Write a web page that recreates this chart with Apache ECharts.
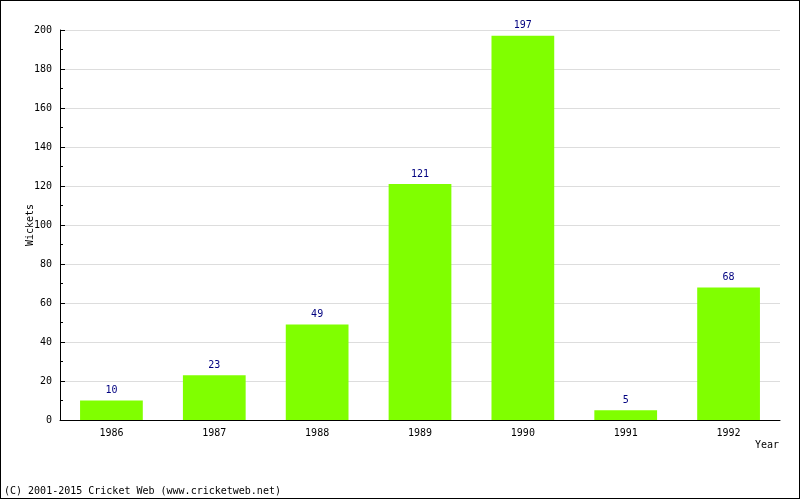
<!DOCTYPE html>
<html>
<head>
<meta charset="utf-8">
<script src="https://cdn.jsdelivr.net/npm/echarts@6/dist/echarts.min.js"></script>
<style>
  html, body { margin: 0; padding: 0; background: #fff; }
  #wrap { position: relative; width: 800px; height: 500px; }
  #chart { width: 800px; height: 500px; }
  #frame { position: absolute; left: 0; top: 0; width: 800px; height: 499px; box-sizing: border-box; border: 1px solid #000; pointer-events: none; }
</style>
</head>
<body>
<div id="wrap">
  <div id="chart"></div>
  <div id="frame"></div>
</div>
<script>
  // data
  var years = ['1986', '1987', '1988', '1989', '1990', '1991', '1992'];
  var wickets = [10, 23, 49, 121, 197, 5, 68];

  var font = 'DejaVu Sans Mono';
  var chart = echarts.init(document.getElementById('chart'));
  chart.setOption({
    animation: false,
    textStyle: { fontFamily: font },
    grid: { left: 60, right: 20, top: 30, bottom: 80 },
    graphic: [
      {
        type: 'text', left: 4, top: 486,
        style: { text: '(C) 2001-2015 Cricket Web (www.cricketweb.net)', font: '10px ' + font, fill: '#000' }
      },
      {
        type: 'text', right: 21, top: 440,
        style: { text: 'Year', font: '10px ' + font, fill: '#000' }
      },
      // y axis title, rotated
      {
        type: 'text', x: 30, y: 225, rotation: Math.PI / 2,
        style: { text: 'Wickets', font: '10px ' + font, fill: '#000', align: 'center', verticalAlign: 'middle' }
      }
    ],
    xAxis: {
      type: 'category',
      data: years,
      axisLine: { lineStyle: { color: '#000', width: 1 } },
      axisTick: { inside: true, length: 5, lineStyle: { color: '#000' } },
      axisLabel: { color: '#000', fontSize: 10, margin: 8 },
      splitLine: { show: false }
    },
    yAxis: {
      type: 'value',
      min: 0, max: 200, interval: 20,
      axisLine: { show: true, lineStyle: { color: '#000', width: 1 } },
      axisTick: { show: true, inside: true, length: 5, lineStyle: { color: '#000' } },
      minorTick: { show: true, splitNumber: 2, length: 3, lineStyle: { color: '#000' } },
      axisLabel: { color: '#000', fontSize: 10, margin: 8 },
      splitLine: { show: true, lineStyle: { color: '#dddddd', width: 1 } }
    },
    series: [{
      type: 'bar',
      data: wickets,
      barWidth: '61%',
      itemStyle: { color: '#80ff00' },
      label: { show: true, position: 'top', color: '#000080', fontSize: 10, distance: 5 }
    }]
  });
</script>
</body>
</html>
